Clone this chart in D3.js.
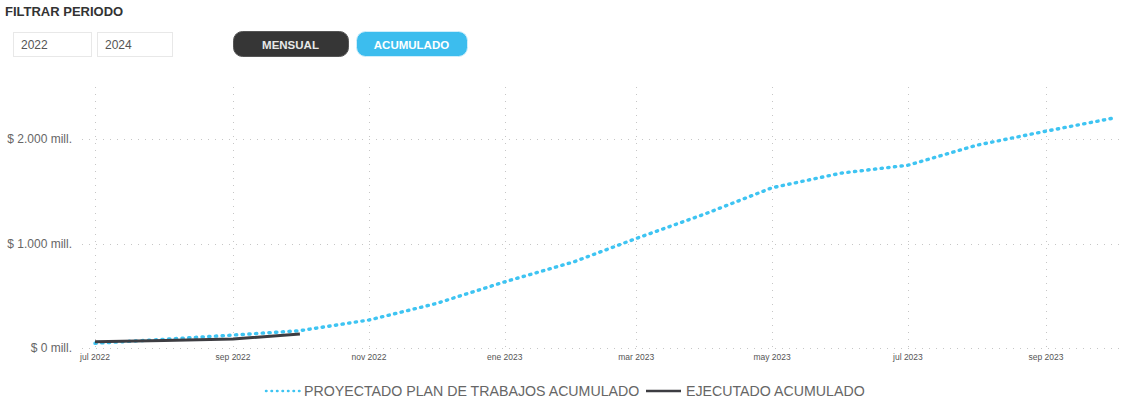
<!DOCTYPE html>
<html>
<head>
<meta charset="utf-8">
<script src="https://cdn.jsdelivr.net/npm/d3@7"></script>
<style>
  html, body { margin: 0; padding: 0; background: #fff; }
  svg { display: block; font-family: "Liberation Sans", Arial, sans-serif; }
</style>
</head>
<body>
<svg id="chart" width="1125" height="403"></svg>
<script>
// Monthly cumulative values, $ millions
const MONTHS = [
  '2022-07','2022-08','2022-09','2022-10','2022-11','2022-12',
  '2023-01','2023-02','2023-03','2023-04','2023-05','2023-06',
  '2023-07','2023-08','2023-09','2023-10',
];
const PROYECTADO = [45, 83, 124, 166, 268, 425, 634, 825, 1049, 1285, 1535, 1675, 1751, 1943, 2077, 2201];
const EJECUTADO  = [61, 73, 86, 134];

const Y_TICKS = [0, 1000, 2000];
const Y_LABELS = ['$ 0 mill.', '$ 1.000 mill.', '$ 2.000 mill.'];
const YEARS = ['2022', '2024'];
const BUTTONS = ['MENSUAL', 'ACUMULADO'];
const LEGEND = ['PROYECTADO PLAN DE TRABAJOS ACUMULADO', 'EJECUTADO ACUMULADO'];

const BLUE = '#3ec4f2';
const DARK = '#3d3d42';

const es = d3.timeFormatLocale({
  dateTime: '%x, %X', date: '%d/%m/%Y', time: '%-I:%M:%S %p', periods: ['AM', 'PM'],
  days: ['domingo','lunes','martes','miércoles','jueves','viernes','sábado'],
  shortDays: ['dom','lun','mar','mié','jue','vie','sáb'],
  months: ['enero','febrero','marzo','abril','mayo','junio','julio','agosto','septiembre','octubre','noviembre','diciembre'],
  shortMonths: ['ene','feb','mar','abr','may','jun','jul','ago','sep','oct','nov','dic'],
});
const fmtTick = es.format('%b %Y');
const parse = d3.timeParse('%Y-%m');
const dates = MONTHS.map(parse);

const svg = d3.select('#chart');

// --- header: title, year boxes, toggle buttons
svg.append('text')
  .attr('x', 5).attr('y', 16)
  .attr('font-size', 13).attr('font-weight', 'bold')
  .attr('fill', '#333')
  .text('FILTRAR PERIODO');

YEARS.forEach((yr, i) => {
  const x0 = i === 0 ? 13 : 97;
  svg.append('rect')
    .attr('x', x0 + 0.5).attr('y', 32.5)
    .attr('width', i === 0 ? 78 : 75).attr('height', 24)
    .attr('fill', '#fff').attr('stroke', '#e8e8e8');
  svg.append('text')
    .attr('x', x0 + 8).attr('y', 49)
    .attr('font-size', 12).attr('fill', '#555')
    .text(yr);
});

const btnG = svg.append('g');
[{ x: 233, w: 115, fill: '#363636', stroke: '#555', color: '#e8e8e8' },
 { x: 356, w: 111, fill: '#3cbdee', stroke: '#cfeefb', color: '#fff' }].forEach((b, i) => {
  btnG.append('rect')
    .attr('x', b.x + 0.5).attr('y', 31.5)
    .attr('width', b.w).attr('height', 25)
    .attr('rx', 9)
    .attr('fill', b.fill).attr('stroke', b.stroke);
  btnG.append('text')
    .attr('x', b.x + b.w / 2).attr('y', 48.5)
    .attr('text-anchor', 'middle')
    .attr('font-size', 11.5).attr('font-weight', 'bold')
    .attr('fill', b.color)
    .text(BUTTONS[i]);
});

// --- scales
const x = d3.scaleTime()
  .domain([parse('2022-07'), parse('2023-09')])
  .range([95, 1046]);
const y = d3.scaleLinear()
  .domain([0, 2500])
  .range([348, 87]);

const plotLeft = 82, plotRight = 1125;

// --- gridlines
const xTicks = d3.timeMonth.every(2).range(parse('2022-07'), parse('2023-10'));

svg.append('g').selectAll('line')
  .data(xTicks)
  .join('line')
  .attr('x1', d => Math.round(x(d)) + 0.5).attr('x2', d => Math.round(x(d)) + 0.5)
  .attr('y1', y.range()[1]).attr('y2', y(0))
  .attr('stroke', '#c6c6c6')
  .attr('stroke-dasharray', '1 6');

svg.append('g').selectAll('line')
  .data(Y_TICKS)
  .join('line')
  .attr('x1', plotLeft).attr('x2', plotRight)
  .attr('y1', d => Math.round(y(d)) + 0.5).attr('y2', d => Math.round(y(d)) + 0.5)
  .attr('stroke', '#c6c6c6')
  .attr('stroke-dasharray', '1 6');

// --- axes labels
svg.append('g').selectAll('text')
  .data(Y_TICKS)
  .join('text')
  .attr('x', 72).attr('y', d => y(d) + 4)
  .attr('text-anchor', 'end')
  .attr('font-size', 12).attr('fill', '#666')
  .text((d, i) => Y_LABELS[i]);

svg.append('g').selectAll('text')
  .data(xTicks)
  .join('text')
  .attr('x', d => x(d)).attr('y', 360)
  .attr('text-anchor', 'middle')
  .attr('font-size', 8.5).attr('fill', '#555')
  .text(d => fmtTick(d));

// --- series
const line = d3.line()
  .x(d => x(d[0]))
  .y(d => y(d[1]));

svg.append('path')
  .datum(dates.map((d, i) => [d, PROYECTADO[i]]))
  .attr('d', line)
  .attr('fill', 'none')
  .attr('stroke', BLUE)
  .attr('stroke-width', 3.4)
  .attr('stroke-linecap', 'round')
  .attr('stroke-dasharray', '1.3 5.4');

svg.append('path')
  .datum(EJECUTADO.map((v, i) => [dates[i], v]))
  .attr('d', line)
  .attr('fill', 'none')
  .attr('stroke', DARK)
  .attr('stroke-width', 3);

// --- legend
const lg = svg.append('g').attr('transform', 'translate(0,391)');
lg.append('line')
  .attr('x1', 266).attr('x2', 300)
  .attr('stroke', BLUE).attr('stroke-width', 2.5)
  .attr('stroke-linecap', 'round')
  .attr('stroke-dasharray', '0.5 5');
lg.append('text')
  .attr('x', 304).attr('y', 5)
  .attr('font-size', 14.2).attr('fill', '#666')
  .text(LEGEND[0]);
lg.append('line')
  .attr('x1', 646).attr('x2', 681)
  .attr('stroke', DARK).attr('stroke-width', 2.5);
lg.append('text')
  .attr('x', 686).attr('y', 5)
  .attr('font-size', 14.2).attr('fill', '#666')
  .text(LEGEND[1]);
</script>
</body>
</html>
